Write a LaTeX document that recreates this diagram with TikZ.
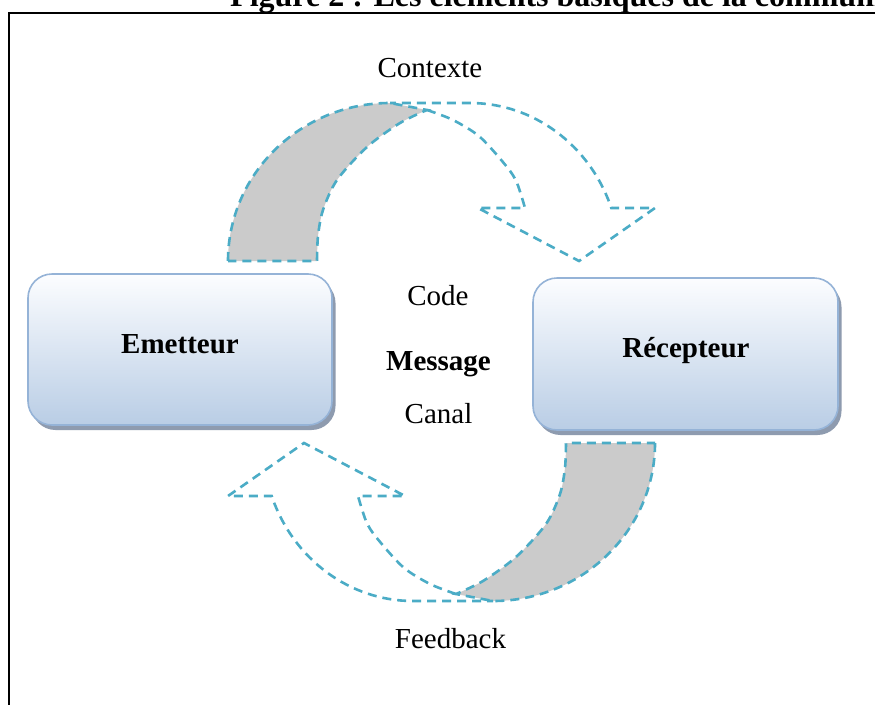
\documentclass[tikz,border=0pt]{standalone}
\usepackage{fontspec}
\setmainfont{Liberation Serif}
\usetikzlibrary{shadows}

\definecolor{flowline}{RGB}{75,172,198}
\definecolor{bandgrey}{RGB}{203,203,203}
\definecolor{boxtop}{RGB}{252,253,255}
\definecolor{boxbottom}{RGB}{185,205,229}
\definecolor{boxedge}{RGB}{149,179,215}
\definecolor{boxshadow}{RGB}{142,155,175}

\tikzset{
  lbl/.style={font=\fontsize{29}{34}\selectfont, anchor=base, inner sep=0pt},
  boldlbl/.style={lbl, font=\fontsize{29}{34}\selectfont\bfseries},
  titletext/.style={font=\fontsize{32}{38}\selectfont\bfseries, anchor=base west, inner sep=0pt},
  partybox/.style={draw=boxedge, line width=1.6pt, rounded corners=24pt,
    top color=boxtop, bottom color=boxbottom, inner sep=0pt,
    drop shadow={shadow xshift=3.5pt, shadow yshift=-5pt, fill=boxshadow, opacity=1}},
  flow/.style={draw=flowline, line width=2.6pt, dash pattern=on 9pt off 6pt, line join=miter},
  band/.style={flow, fill=bandgrey},
}

% one curved arrow: grey back of the ribbon, then the dashed front with its head
\newcommand\ribbonarrow{%
  \path[band] (228,261) arc[start angle=180, end angle=270, x radius=162, y radius=158]
    -- plot[smooth] coordinates {(427,110) (400,123) (367,147) (337,180) (323,210) (318,236) (317,261)}
    -- cycle;
  \path[flow] plot[smooth] coordinates {(427,110) (453,120) (480,137) (507,167) (517,183) (525,208)}
    -- (478,208) -- (579,261) -- (655,208) -- (611.3,208)
    arc[start angle=340.4, end angle=270, x radius=150, y radius=158] -- (390,103);
}

\begin{document}
\begin{tikzpicture}[x=1pt, y=-1pt]
  \useasboundingbox (0,0) rectangle (875,704);
  \clip (0,0) rectangle (875,704);
  \fill[white] (0,0) rectangle (875,704);

  % caption running off the top edge
  \node[titletext] (title) at (230,6) {Figure 2 : Les éléments basiques de la communication};

  % frame round the figure
  \coordinate (frameTR) at (880,12.5);
  \coordinate (frameTL) at (8.5,12.5);
  \coordinate (frameBL) at (8.5,710);
  \draw[line width=2pt] (frameTR) -- (frameTL) -- (frameBL);

  % sender and receiver
  \node[partybox, minimum width=304pt, minimum height=151pt] (emetteur) at (180,349.5) {};
  \node[partybox, minimum width=305pt, minimum height=152pt] (recepteur) at (685.5,354) {};
  \node[boldlbl] (emetteurtxt) at (180,353) {Emetteur};
  \node[boldlbl] (recepteurtxt) at (686,357) {Récepteur};

  % context arrow on top, feedback arrow below (same shape turned round)
  \begin{scope}
    \ribbonarrow
  \end{scope}
  \begin{scope}[rotate around={180:(441.5,352)}]
    \ribbonarrow
  \end{scope}

  % labels
  \node[lbl] (contexte) at (430,77) {Contexte};
  \node[lbl] (code) at (438,305) {Code};
  \node[boldlbl] (message) at (438.5,370) {Message};
  \node[lbl] (canal) at (438.5,423) {Canal};
  \node[lbl] (feedback) at (450.5,648) {Feedback};
\end{tikzpicture}
\end{document}
